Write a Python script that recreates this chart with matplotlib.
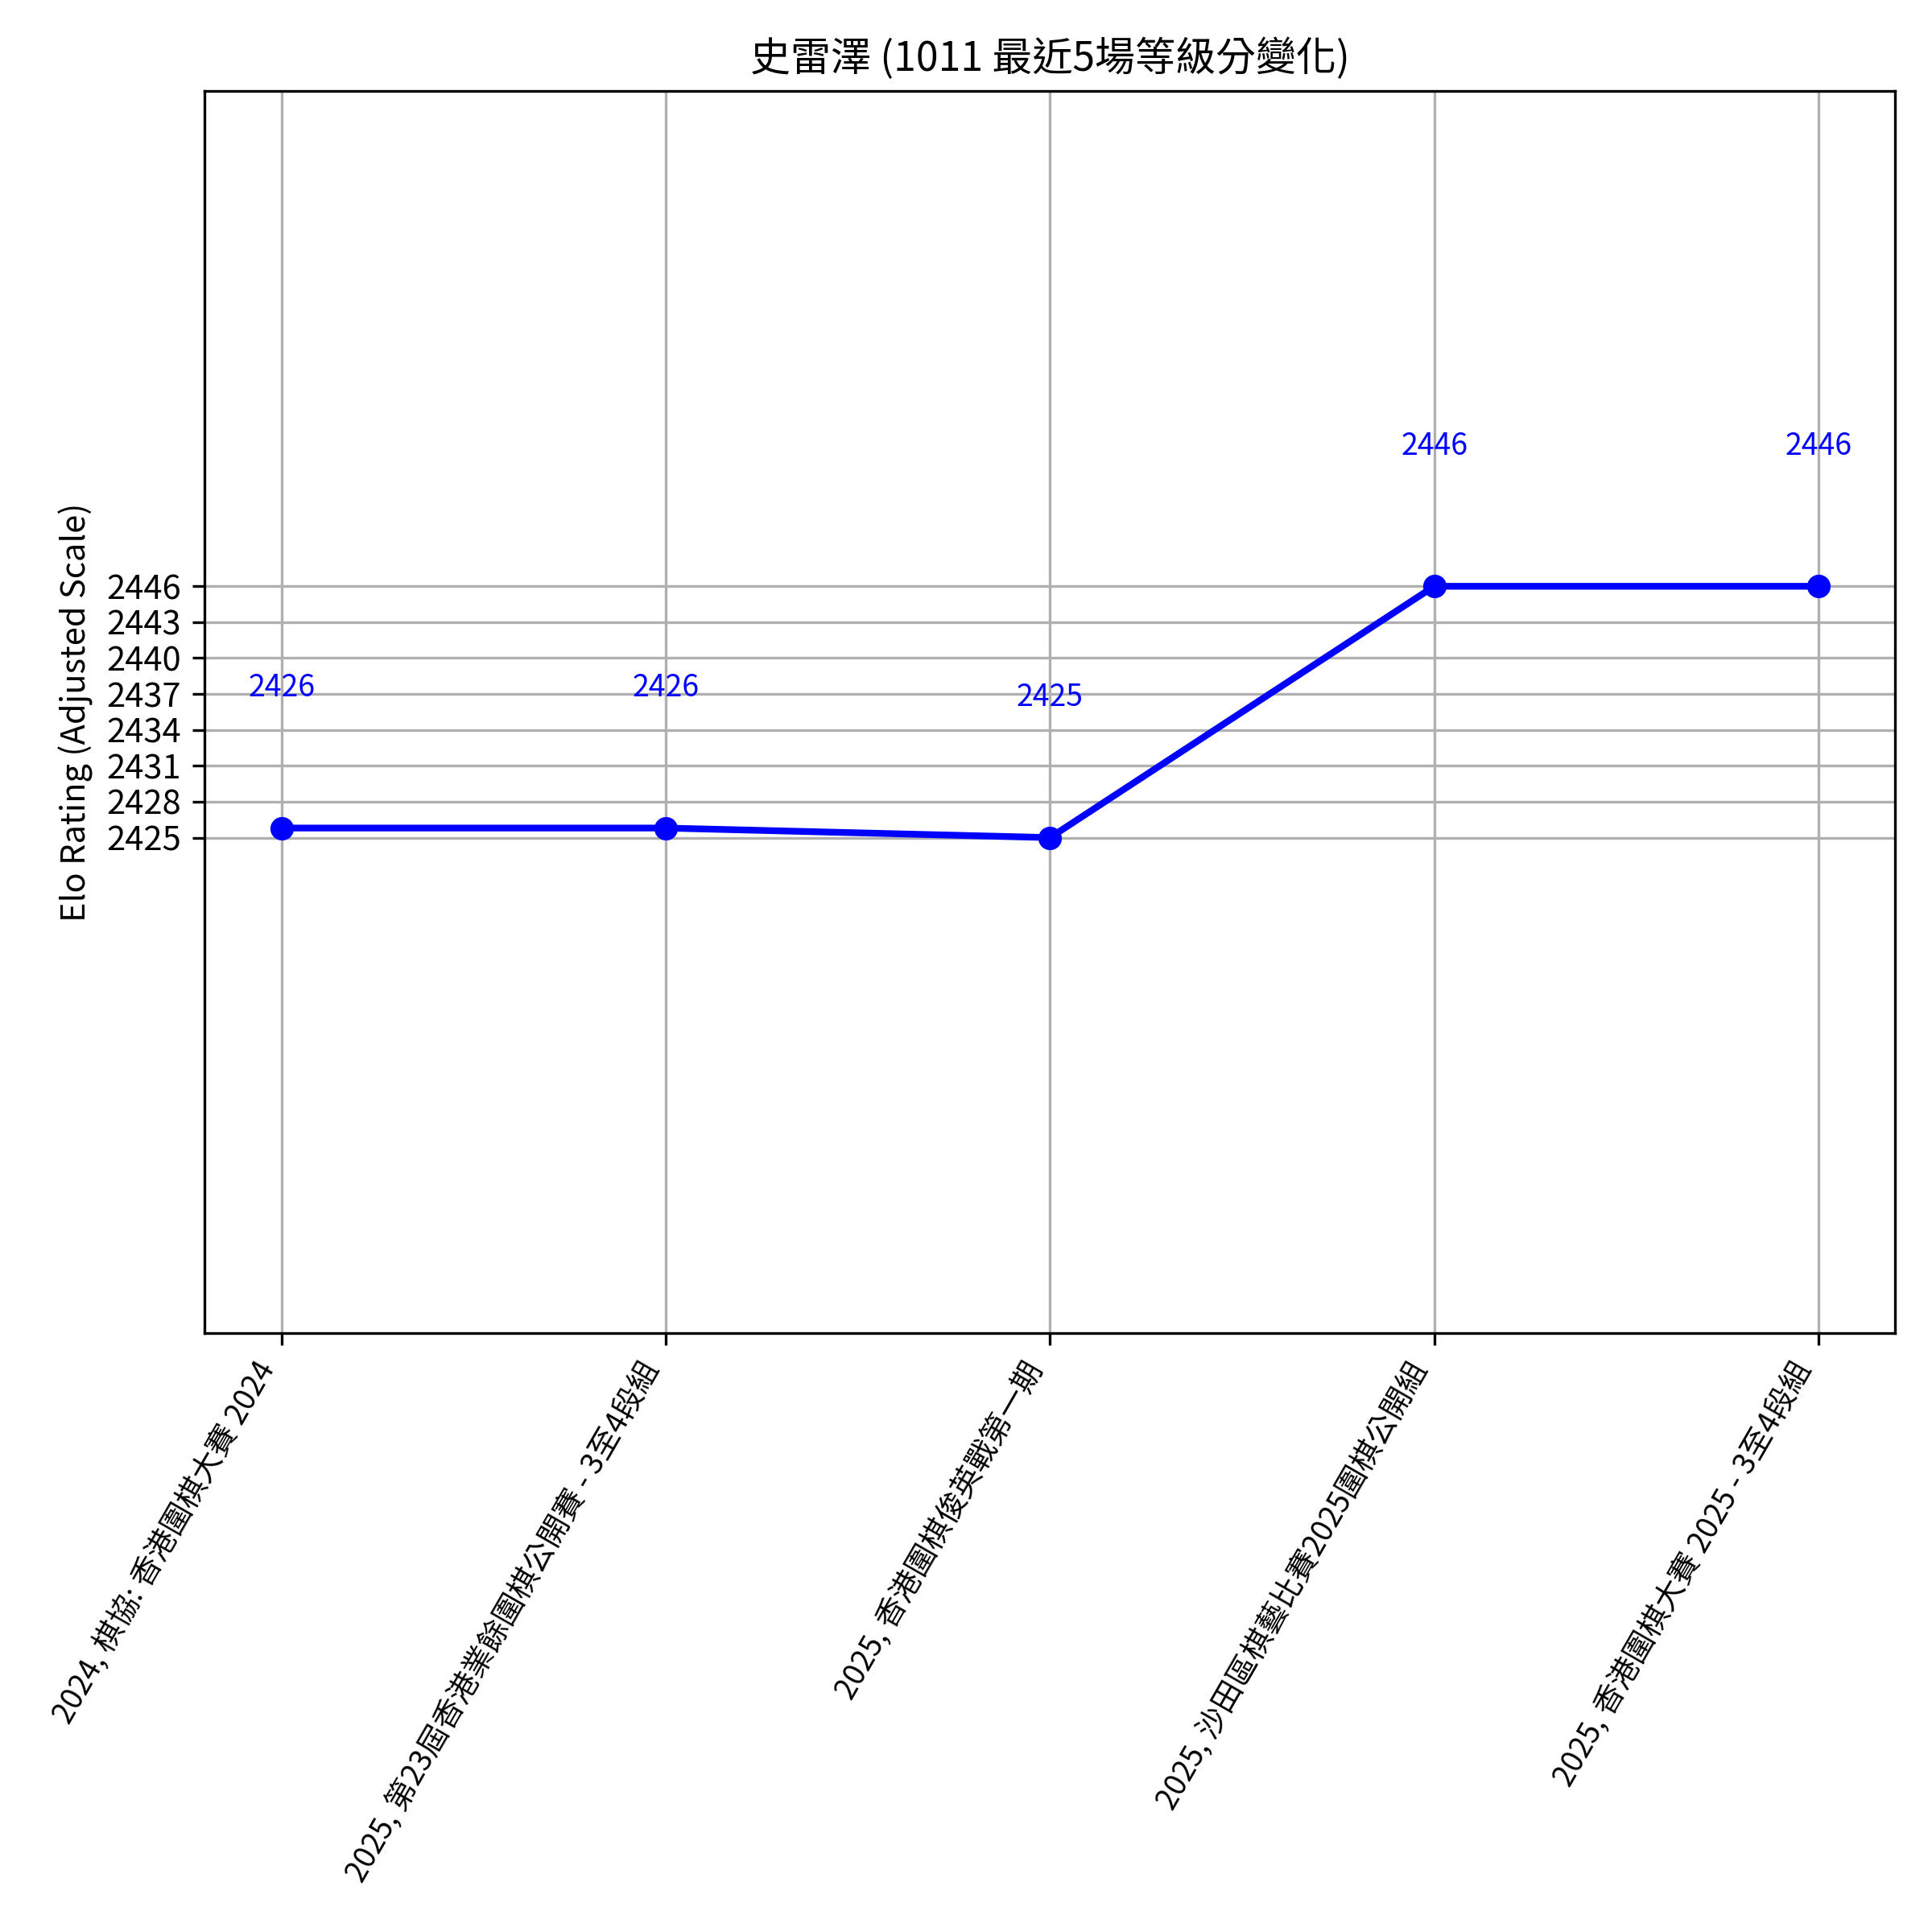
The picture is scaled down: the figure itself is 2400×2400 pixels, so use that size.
import matplotlib.pyplot as plt

plt.rcParams['font.family'] = ['Noto Sans CJK TC', 'DejaVu Sans']

# 資料
events = [
    '2024, 棋協: 香港圍棋大賽 2024',
    '2025, 第23屆香港業餘圍棋公開賽 - 3至4段組',
    '2025, 香港圍棋俊英戰第一期',
    '2025, 沙田區棋藝比賽2025圍棋公開組',
    '2025, 香港圍棋大賽 2025 - 3至4段組',
]
ratings = [2425.8, 2425.8, 2425.0, 2446.0, 2446.0]
yticks = [2425, 2428, 2431, 2434, 2437, 2440, 2443, 2446]

fig, ax = plt.subplots(figsize=(8, 8), dpi=300)
x = list(range(len(events)))
ax.plot(x, ratings, marker='o', color='blue', linewidth=2, markersize=6)

# 標註數值
for xi, r in zip(x, ratings):
    ax.text(xi, r + 10.4, f'{r:.0f}', color='blue', ha='center', va='bottom', fontsize=9)

ax.set_ylim(2383.6, 2487.4)
ax.set_yticks(yticks)
ax.set_xticks(x)
ax.set_xticklabels(events, rotation=60, ha='right', fontsize=9)
ax.set_ylabel('Elo Rating (Adjusted Scale)', fontsize=10)
ax.set_title('史雷澤 (1011 最近5場等級分變化)', fontsize=12)
ax.grid(True)

fig.subplots_adjust(left=0.106, right=0.981, top=0.953, bottom=0.310)
fig.savefig('out.png', dpi=300)
